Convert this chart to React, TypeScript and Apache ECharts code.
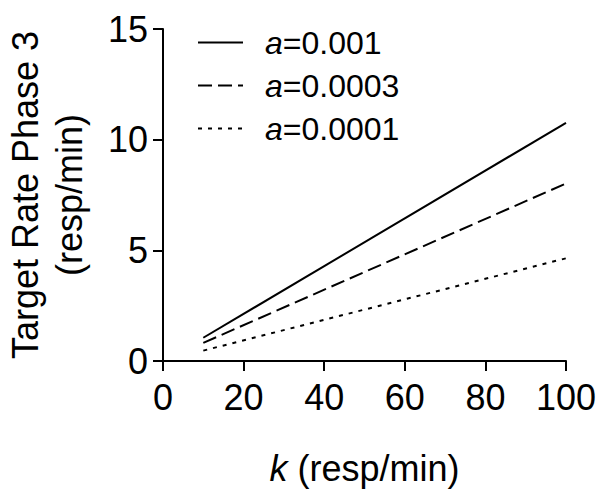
import React, { useEffect, useRef } from "react";
import * as echarts from "echarts";

const kValues = [10, 100];
const rateA001 = [1.05, 10.76];
const rateA0003 = [0.82, 8.02];
const rateA0001 = [0.47, 4.64];
const seriesNames = ["a=0.001", "a=0.0003", "a=0.0001"];
const xTicks = { min: 0, max: 100, interval: 20 };
const yTicks = { min: 0, max: 15, interval: 5 };

const FONT = "'Liberation Sans', Arial, sans-serif";

export default function App() {
  const ref = useRef<HTMLDivElement>(null);
  useEffect(() => {
    if (!ref.current) return;
    const chart = echarts.init(ref.current, undefined, { renderer: "svg" });
    const toPairs = (ys: number[]) => kValues.map((k, i) => [k, ys[i]]);
    const dashes: any[] = ["solid", [14, 6], [4, 6]];
    const data = [rateA001, rateA0003, rateA0001];
    chart.setOption({
      animation: false,
      backgroundColor: "#fff",
      textStyle: { fontFamily: FONT },
      grid: {
        left: 163,
        right: 38,
        top: 29,
        bottom: 132,
        containLabel: false,
        outerBoundsMode: "none",
      },
      legend: {
        orient: "vertical",
        left: 192,
        top: 20,
        itemWidth: 45,
        itemHeight: 20,
        itemGap: 8,
        selectedMode: false,
        data: seriesNames,
        itemStyle: { opacity: 0, borderWidth: 0 },
        formatter: (name: string) => `{i|a}${name.slice(1)}`,
        textStyle: {
          fontSize: 32,
          lineHeight: 35,
          color: "#000",
          fontFamily: FONT,
          padding: [0, 0, 0, 17],
          rich: {
            i: { fontStyle: "italic", fontSize: 32, fontFamily: FONT, color: "#000" },
          },
        },
      },
      xAxis: {
        type: "value",
        ...xTicks,
        name: "{i|k} (resp/min)",
        nameLocation: "middle",
        nameGap: 89,
        nameTextStyle: {
          fontSize: 36,
          color: "#000",
          fontFamily: FONT,
          rich: { i: { fontStyle: "italic", fontSize: 36, color: "#000", fontFamily: FONT } },
        },
        splitLine: { show: false },
        axisLine: { lineStyle: { color: "#000", width: 2 } },
        axisTick: { length: 10, lineStyle: { color: "#000", width: 2 } },
        axisLabel: { fontSize: 36, color: "#000", margin: 18, fontFamily: FONT },
      },
      yAxis: {
        type: "value",
        ...yTicks,
        name: "Target Rate Phase 3\n(resp/min)",
        nameLocation: "middle",
        nameRotate: 90,
        nameGap: 72,
        nameTextStyle: { fontSize: 36, lineHeight: 44, color: "#000", fontFamily: FONT },
        splitLine: { show: false },
        axisLine: { show: true, lineStyle: { color: "#000", width: 2 } },
        axisTick: { show: true, length: 10, lineStyle: { color: "#000", width: 2 } },
        axisLabel: { fontSize: 36, color: "#000", margin: 15, fontFamily: FONT },
      },
      series: data.map((ys, i) => ({
        name: seriesNames[i],
        type: "line",
        data: toPairs(ys),
        symbol: "none",
        showSymbol: false,
        color: "#000",
        lineStyle: { color: "#000", width: 2, type: dashes[i] },
      })),
    });
    return () => chart.dispose();
  }, []);
  return (
    <div
      ref={ref}
      style={{ position: "fixed", left: 0, top: 0, width: 604, height: 493, background: "#fff" }}
    />
  );
}
